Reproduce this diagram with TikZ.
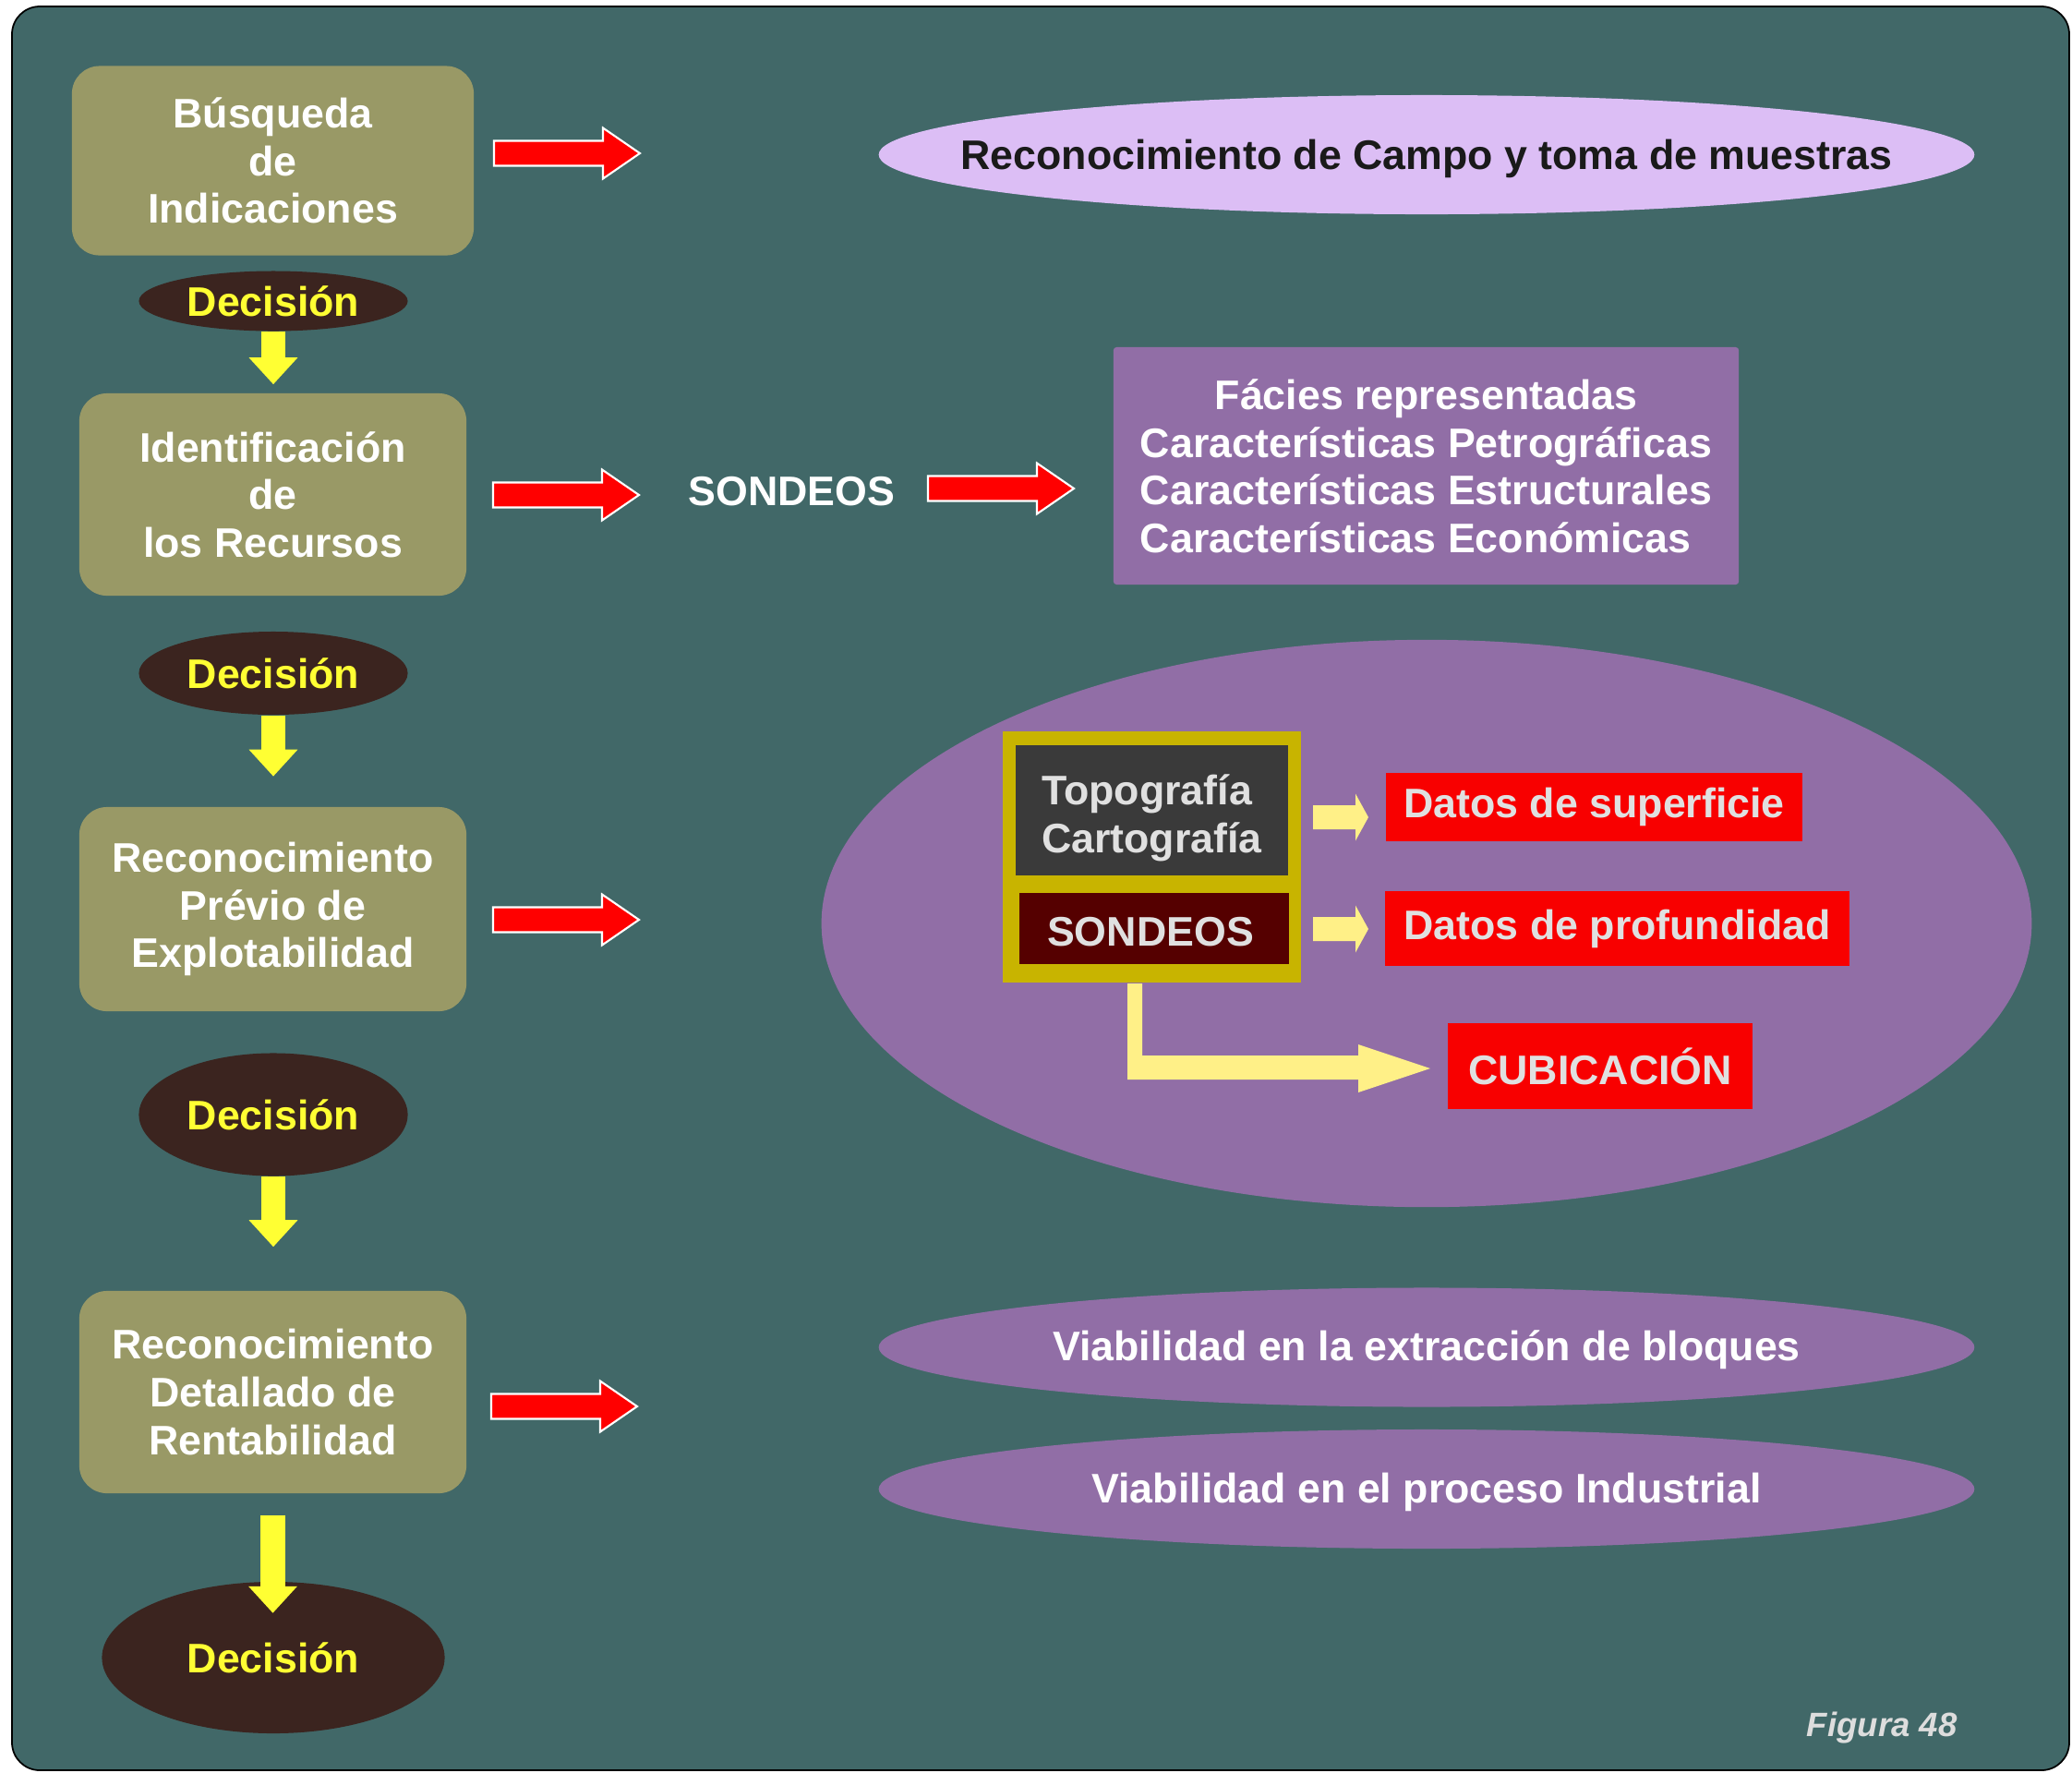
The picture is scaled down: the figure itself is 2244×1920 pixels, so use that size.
\documentclass[tikz,border=0pt]{standalone}
\usepackage{fontspec}
\setmainfont{Liberation Sans}
\usetikzlibrary{shapes.geometric,arrows.meta}
\definecolor{panel}{HTML}{416868}
\definecolor{boxolive}{HTML}{999966}
\definecolor{decis}{HTML}{3B241F}
\definecolor{decyellow}{HTML}{FFFF33}
\definecolor{lilac}{HTML}{DCBEF5}
\definecolor{mauve}{HTML}{916EA6}
\definecolor{arrred}{HTML}{FF0000}
\definecolor{datared}{HTML}{F80000}
\definecolor{framegold}{HTML}{C8B400}
\definecolor{darkgrey}{HTML}{3A3A3A}
\definecolor{darkred}{HTML}{550000}
\definecolor{lightyel}{HTML}{FFF087}
\definecolor{lightgrey}{HTML}{E0E0E0}
\definecolor{inktext}{HTML}{1A1A1A}
\definecolor{figgrey}{HTML}{DDDDDD}
\begin{document}
\begin{tikzpicture}[x=0.01cm,y=-0.01cm,font=\bfseries\fontsize{12.72}{14.7}\selectfont,
    stage/.style={rounded corners=0.3cm,fill=boxolive,text=white,align=center,
      minimum width=4.19cm,minimum height=2.19cm,inner sep=0},
    decision/.style={ellipse,fill=decis,text=decyellow,inner sep=0,minimum width=2.91cm},
    result/.style={ellipse,fill=mauve,inner sep=0,minimum width=11.86cm,minimum height=1.29cm},
    datobox/.style={fill=datared,text=lightgrey,inner sep=0},
    yarrow/.style={draw=decyellow,line width=0.26cm,-{Triangle[width=0.51cm,length=0.29cm]}},
    redarr/.pic={\filldraw[draw=white,fill=arrred,line width=0.6pt]
      (0,-13.5) -- (118,-13.5) -- (118,-27.5) -- (158,0) -- (118,27.5) -- (118,13.5) -- (0,13.5) -- cycle;},
    smallarr/.pic={\fill[lightyel]
      (0,-13) -- (46,-13) -- (46,-25.5) -- (60,0) -- (46,25.5) -- (46,13) -- (0,13) -- cycle;}]
  \useasboundingbox (0,0) rectangle (2244,1920);
  \fill[white] (0,0) rectangle (2244,1920);
  \filldraw[fill=panel,draw=black,line width=0.5pt,rounded corners=0.3cm] (13,7) rectangle (2241,1917);

  \node[stage,minimum width=4.35cm,minimum height=2.05cm] (busq) at (295.5,174) {Búsqueda\\de\\Indicaciones};
  \node[decision,minimum height=0.65cm] (dec1) at (296,326) {Decisión};
  \node[stage] (ident) at (295.5,535.5) {Identificación\\de\\los Recursos};
  \node[decision,minimum height=0.9cm] (dec2) at (296,729) {Decisión};
  \node[stage,minimum height=2.21cm] (previo) at (295.5,984.5) {Reconocimiento\\Prévio de\\Explotabilidad};
  \node[decision,minimum height=1.33cm] (dec3) at (296,1207) {Decisión};
  \node[stage] (detall) at (295.5,1507.5) {Reconocimiento\\Detallado de\\Rentabilidad};
  \node[decision,minimum width=3.71cm,minimum height=1.64cm] (dec4) at (296,1795) {Decisión};

  \draw[yarrow] (dec1.south) -- ++(0,57);
  \draw[yarrow] (dec2.south) -- ++(0,66);
  \draw[yarrow] (dec3.south) -- ++(0,76);
  \draw[yarrow] ([yshift=-0.23cm]detall.south) -- ++(0,106);

  \foreach \px/\py in {535/166,534/536,1005/529,534/996,532/1523}
    \pic at (\px,\py) {redarr};

  \node[result,fill=lilac,label={[text=inktext,yshift=-0.04cm]center:Reconocimiento de Campo y toma de muestras}] (campo) at (1545,167.5) {};
  \node[text=white] (sondeos) at (857.5,532) {SONDEOS};
  \node[fill=mauve,rounded corners=1pt,minimum width=6.77cm,minimum height=2.57cm,inner sep=0,
    label={[text=white,yshift=-0.06cm]center:\begin{tabular}{@{}l@{}}\multicolumn{1}{@{}c@{}}{Fácies representadas}\\Características Petrográficas\\Características Estructurales\\Características Económicas\end{tabular}}] (facies) at (1544.5,504.5) {};

  \node[ellipse,fill=mauve,minimum width=13.1cm,minimum height=6.14cm,inner sep=0] (cubic) at (1545,1000) {};
  \node[fill=framegold,minimum width=3.23cm,minimum height=2.72cm,inner sep=0] (marco) at (1247.5,928) {};
  \node[fill=darkgrey,minimum width=2.95cm,minimum height=1.41cm,inner sep=0,
    label={[text=lightgrey,align=left,yshift=-0.08cm]center:Topografía\\Cartografía}] (topo) at (1247.5,877.5) {};
  \node[fill=darkred,minimum width=2.92cm,minimum height=0.77cm,inner sep=0,
    label={[text=lightgrey,yshift=-0.04cm,xshift=-0.04cm]center:SONDEOS}] (sond) at (1250,1005.5) {};
  \node[datobox,minimum width=4.51cm,minimum height=0.74cm] (sup) at (1726.5,874) {Datos de superficie};
  \node[datobox,minimum width=5.03cm,minimum height=0.81cm] (prof) at (1751.5,1005.5) {Datos de profundidad};
  \node[datobox,minimum width=3.30cm,minimum height=0.93cm] (cubi) at (1733,1154.5) {CUBICACIÓN};
  \pic at (1422,885) {smallarr};
  \pic at (1422,1006) {smallarr};
  \fill[lightyel] (1221,1065) -- (1237,1065) -- (1237,1143) -- (1471,1143) -- (1471,1131) -- (1549,1157)
    -- (1471,1183) -- (1471,1169) -- (1221,1169) -- cycle;

  \node[result,label={[text=white,yshift=-0.03cm]center:Viabilidad en la extracción de bloques}] (extrac) at (1545,1459) {};
  \node[result,label={[text=white,yshift=-0.03cm]center:Viabilidad en el proceso Industrial}] (indus) at (1545,1612.5) {};

  \node[font=\bfseries\itshape\fontsize{10.4}{12}\selectfont,text=figgrey,anchor=east] (fig) at (2132,1871) {Figura 48};
\end{tikzpicture}
\end{document}
